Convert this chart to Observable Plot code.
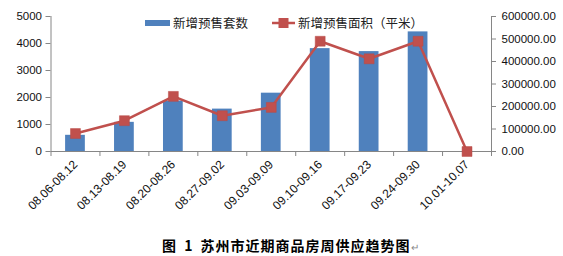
<!DOCTYPE html>
<html><head><meta charset="utf-8">
<script src="https://cdn.jsdelivr.net/npm/d3@7"></script>
<script src="https://cdn.jsdelivr.net/npm/@observablehq/plot@0.6"></script>
<style>
body{margin:0;background:#fff;}
#wrap{position:relative;width:563px;height:256px;overflow:hidden;font-family:"Liberation Sans",Arial,sans-serif;}
#chart{position:absolute;left:0;top:0;}
.leg{position:absolute;top:14px;font-family:"Noto Sans CJK SC",sans-serif;font-size:12.5px;color:#222;line-height:18px;white-space:nowrap;}
#cap{position:absolute;left:0;top:234px;width:563px;text-align:left;font-family:"Noto Sans CJK SC",sans-serif;font-weight:bold;font-size:14px;line-height:22px;color:#000;white-space:nowrap;}
</style></head>
<body><div id="wrap"><div id="chart"></div>
<div class="leg" style="left:145px"><svg width="26" height="18" style="vertical-align:top"><rect x="0" y="6" width="25" height="6" fill="#4F81BD"/></svg><span style="margin-left:2px">新增预售套数</span></div>
<div class="leg" style="left:272px"><svg width="24" height="18" style="vertical-align:top"><line x1="0" x2="23" y1="9" y2="9" stroke="#C0504D" stroke-width="2.5"/><rect x="6.5" y="4" width="10" height="10" fill="#C0504D"/></svg><span style="margin-left:2px">新增预售面积（平米）</span></div>
<div id="cap"><span style="margin-left:162px;letter-spacing:1px;word-spacing:3px">图 1 苏州市近期商品房周供应趋势图</span><span style="font-weight:normal;color:#888;font-size:10px">↵</span></div>
</div>
<script>
const categories = ["08.06-08.12","08.13-08.19","08.20-08.26","08.27-09.02","09.03-09.09","09.10-09.16","09.17-09.23","09.24-09.30","10.01-10.07"];
const units = [600, 1080, 1870, 1570, 2160, 3810, 3700, 4430, 0];
const area = [80000, 137000, 245000, 159000, 196000, 490000, 412000, 490000, 0];
const leftTicks = [0, 1000, 2000, 3000, 4000, 5000];
const rightTicks = [0, 100000, 200000, 300000, 400000, 500000, 600000];
const ratio = 120; // right axis units per left axis unit

const data = categories.map((c, i) => ({i, c, units: units[i], area: area[i]}));
const edges = d3.range(categories.length + 1);
const mids = categories.map((c, i) => i + 0.5);
const grey = "#868686";

const plot = Plot.plot({
  width: 563, height: 232,
  marginLeft: 50.5, marginRight: 72, marginTop: 16, marginBottom: 81,
  style: {fontFamily: "Liberation Sans, Arial, sans-serif", fontSize: "11px", background: "#fff"},
  x: {type: "linear", domain: [0, categories.length]},
  y: {domain: [0, 5000]},
  marks: [
    Plot.rectY(data, {x1: d => d.i, x2: d => d.i + 1, y: "units", insetLeft: 14.6, insetRight: 14.6, fill: "#4F81BD"}),
    Plot.ruleY([0], {stroke: grey}),
    Plot.ruleX([0, categories.length], {stroke: grey}),
    Plot.axisY({ticks: leftTicks, tickSize: 5, tickPadding: 4, tickFormat: d => String(d), stroke: grey, fill: "#111", label: null, fontSize: 11.5}),
    Plot.axisY({anchor: "right", ticks: rightTicks.map(v => v / ratio), tickSize: 4, tickPadding: 6, tickFormat: d => (d * ratio).toFixed(2), stroke: grey, fill: "#111", label: null, fontSize: 11.5}),
    Plot.axisX({ticks: edges, tickSize: 5, tickFormat: () => "", stroke: grey, label: null}),
    Plot.axisX({ticks: mids, tickSize: 0, tickPadding: 11, tickRotate: -45, tickFormat: d => categories[Math.floor(d)], fill: "#111", label: null, fontSize: 12}),
    Plot.line(data, {x: d => d.i + 0.5, y: d => d.area / ratio, stroke: "#C0504D", strokeWidth: 2.5}),
    Plot.dot(data, {x: d => d.i + 0.5, y: d => d.area / ratio, symbol: "square", r: 5.6, fill: "#C0504D", stroke: "#B94A47", strokeWidth: 0.5})
  ]
});
document.getElementById("chart").appendChild(plot);
</script>
</body></html>
